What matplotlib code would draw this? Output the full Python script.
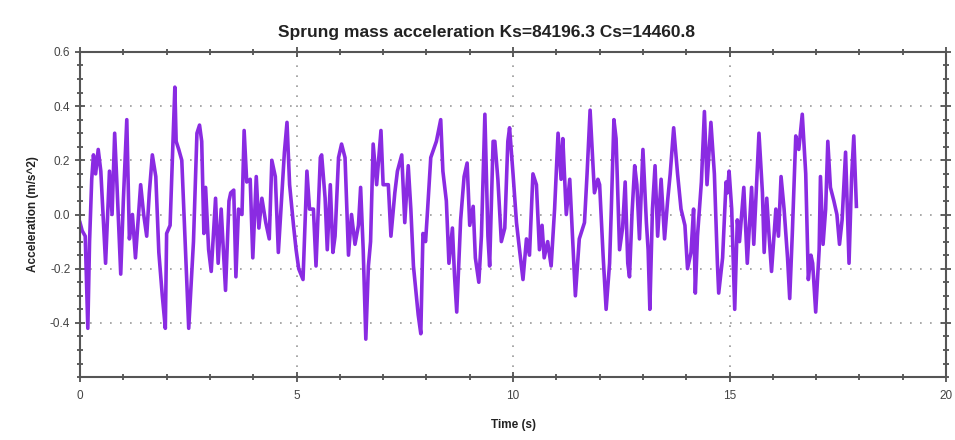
import numpy as np
import matplotlib
matplotlib.use('Agg')
import matplotlib.pyplot as plt
from matplotlib.ticker import MultipleLocator

# sprung mass acceleration trace (turning points)
t = [0.00, 0.05, 0.12, 0.18, 0.22, 0.27, 0.31, 0.36, 0.42, 0.48, 0.59, 0.68, 0.74, 0.80, 0.85, 0.94,
     1.00, 1.08, 1.14, 1.21, 1.28, 1.40, 1.47, 1.54, 1.60, 1.67, 1.75, 1.82, 1.90, 1.97, 2.00, 2.08, 2.19,
     2.22, 2.28, 2.35, 2.51, 2.62, 2.70, 2.76, 2.81, 2.86, 2.90, 2.97, 3.03, 3.13, 3.19, 3.26, 3.36,
     3.44, 3.48, 3.55, 3.60, 3.66, 3.74, 3.79, 3.85, 3.93, 3.99, 4.07, 4.13, 4.20, 4.29, 4.37, 4.43,
     4.51, 4.58, 4.72, 4.78, 4.84, 4.93, 4.99, 5.05, 5.15, 5.24, 5.30, 5.39, 5.45, 5.55, 5.58, 5.66,
     5.71, 5.78, 5.84, 5.89, 5.97, 6.04, 6.12, 6.20, 6.27, 6.35, 6.43, 6.48, 6.54, 6.60, 6.66, 6.71,
     6.77, 6.85, 6.95, 7.00, 7.12, 7.18, 7.27, 7.33, 7.43, 7.50, 7.58, 7.64, 7.70, 7.81, 7.87, 7.92,
     7.98, 8.02, 8.10, 8.23, 8.33, 8.38, 8.46, 8.52, 8.60, 8.65, 8.70, 8.79, 8.87, 8.94, 9.00, 9.08,
     9.13, 9.21, 9.27, 9.35, 9.42, 9.46, 9.54, 9.58, 9.65, 9.73, 9.81, 9.88, 9.92, 10.00, 10.08, 10.15,
     10.23, 10.31, 10.38, 10.46, 10.54, 10.61, 10.67, 10.72, 10.80, 10.88, 10.96, 11.04, 11.11, 11.15,
     11.23, 11.31, 11.38, 11.44, 11.53, 11.65, 11.71, 11.78, 11.88, 11.96, 12.00, 12.08, 12.15, 12.23,
     12.27, 12.33, 12.38, 12.46, 12.53, 12.59, 12.65, 12.69, 12.75, 12.81, 12.86, 12.92, 13.00, 13.08,
     13.12, 13.16, 13.22, 13.28, 13.34, 13.42, 13.50, 13.57, 13.63, 13.71, 13.80, 13.88, 13.97, 14.03,
     14.11, 14.17, 14.21, 14.26, 14.35, 14.42, 14.48, 14.57, 14.65, 14.72, 14.75, 14.84, 14.92, 14.95,
     14.99, 15.05, 15.12, 15.18, 15.23, 15.33, 15.41, 15.51, 15.56, 15.68, 15.76, 15.80, 15.86, 15.91,
     15.97, 16.07, 16.13, 16.19, 16.26, 16.34, 16.39, 16.45, 16.53, 16.60, 16.68, 16.76, 16.82, 16.88,
     16.92, 16.99, 17.07, 17.10, 17.16, 17.22, 17.27, 17.33, 17.41, 17.48, 17.54, 17.60, 17.68, 17.76,
     17.82, 17.87, 17.93]
acc = [-0.03, -0.06, -0.08, -0.42, -0.10, 0.13, 0.22, 0.15, 0.24, 0.16, -0.18, 0.16, 0.00, 0.30, 0.12, -0.22,
       0.05, 0.35, -0.09, 0.00, -0.16, 0.11, 0.00, -0.08, 0.08, 0.22, 0.14, -0.14, -0.30, -0.42, -0.07, -0.04, 0.47,
       0.27, 0.24, 0.20, -0.42, -0.10, 0.30, 0.33, 0.27, -0.07, 0.10, -0.13, -0.21, 0.06, -0.18, 0.02, -0.28,
       0.05, 0.08, 0.09, -0.23, 0.02, 0.00, 0.31, 0.12, 0.13, -0.16, 0.14, -0.05, 0.06, -0.03, -0.09, 0.20,
       0.14, -0.14, 0.23, 0.34, 0.11, -0.04, -0.13, -0.20, -0.24, 0.16, 0.02, 0.02, -0.19, 0.21, 0.22, 0.06,
       -0.13, 0.11, -0.14, -0.08, 0.21, 0.26, 0.21, -0.15, 0.00, -0.11, -0.04, 0.10, -0.13, -0.46, -0.19, -0.10,
       0.26, 0.11, 0.31, 0.11, 0.11, -0.08, 0.08, 0.16, 0.22, -0.03, 0.18, 0.02, -0.19, -0.37, -0.44, -0.07,
       -0.10, 0.00, 0.21, 0.27, 0.35, 0.16, 0.05, -0.18, -0.05, -0.23, -0.36, -0.02, 0.14, 0.19, -0.04, 0.03,
       -0.16, -0.25, -0.08, 0.37, -0.08, -0.19, 0.27, 0.27, 0.13, -0.10, -0.05, 0.27, 0.32, 0.15, -0.03, -0.13,
       -0.24, -0.09, -0.15, 0.15, 0.11, -0.13, -0.04, -0.16, -0.10, -0.19, 0.02, 0.30, 0.13, 0.28,
       0.00, 0.13, -0.10, -0.30, -0.09, -0.03, 0.15, 0.385, 0.08, 0.13, 0.11, -0.15, -0.35, -0.18,
       0.02, 0.35, 0.28, -0.13, -0.05, 0.12, -0.18, -0.23, 0.01, 0.18, 0.11, -0.09, 0.24, -0.03,
       -0.13, -0.35, 0.02, 0.18, -0.08, 0.13, -0.09, 0.05, 0.15, 0.32, 0.15, 0.02, -0.04, -0.20,
       -0.14, 0.02, -0.29, -0.08, 0.12, 0.38, 0.11, 0.34, 0.15, -0.18, -0.29, -0.16, 0.12, 0.08,
       0.16, 0.02, -0.35, -0.02, -0.10, 0.10, -0.18, 0.10, -0.11, 0.30, 0.08, -0.14, 0.06, -0.07,
       -0.21, 0.02, -0.08, 0.14, 0.02, -0.16, -0.31, -0.07, 0.29, 0.24, 0.37, 0.15, -0.24, -0.15,
       -0.18, -0.36, -0.13, 0.14, -0.11, 0.02, 0.27, 0.10, 0.05, 0.00, -0.11, -0.02, 0.23, -0.18,
       0.14, 0.29, 0.03]

plt.rcParams['font.family'] = ['Liberation Sans', 'DejaVu Sans']

fig = plt.figure(figsize=(9.55, 4.4), dpi=100)
ax = fig.add_axes([0.0838, 0.143, 0.9068, 0.739])

ax.plot(t, acc, color='#8a2be2', lw=2.6, solid_joinstyle='round')

ax.set_xlim(0, 20)
ax.set_ylim(-0.6, 0.6)
ax.xaxis.set_minor_locator(MultipleLocator(1))
ax.yaxis.set_minor_locator(MultipleLocator(0.05))
ax.set_yticks([-0.4, -0.2, 0.0, 0.2, 0.4, 0.6])
ax.set_yticklabels(['-0.4', '-0.2', '0.0', '0.2', '0.4', '0.6'])
ax.set_xticks([0, 5, 10, 15, 20])

ax.tick_params(which='both', direction='inout', top=True, right=True,
               colors='#444444', labelsize=8.5, width=1.2)
ax.tick_params(which='major', length=7)
ax.tick_params(which='minor', length=5)
ax.tick_params(axis='x', pad=6)

for s in ax.spines.values():
    s.set_color('#555555')
    s.set_linewidth(1.5)

ax.grid(True, which='major', color='#999999', linestyle=(0, (1, 5)), linewidth=1.2)

ax.set_title('Sprung mass acceleration Ks=84196.3 Cs=14460.8', fontsize=12.5,
             fontweight='bold', color='#222222', pad=11, x=0.469)
ax.set_xlabel('Time (s)', fontsize=8.5, fontweight='bold', color='#222222', labelpad=12)
ax.set_ylabel('Acceleration (m/s^2)', fontsize=8.5, fontweight='bold', color='#222222', labelpad=8)

fig.savefig('out.png', dpi=100)
